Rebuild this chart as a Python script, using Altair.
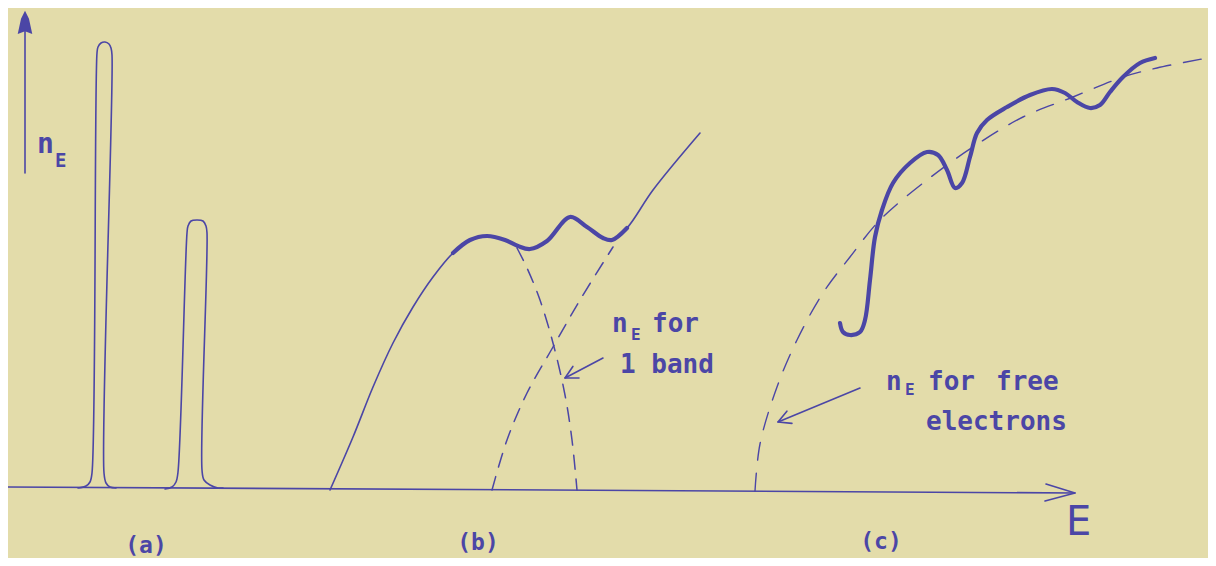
import altair as alt
import pandas as pd
import numpy as np

INK = "#4b46a6"
PAPER = "#e3dcaa"
FONT = "DejaVu Sans Mono"

# ---- data: E (horizontal) and n_E (vertical), arbitrary schematic units ----
# (a) sharp atomic levels
peak1_E = [78, 86, 90, 92, 97, 98, 101, 105, 109, 111, 112, 104, 106, 110, 116]
peak1_n = [1, 3, 7, 16, 436, 442, 446, 447, 445, 441, 434, 16, 6, 2, 1]
peak2_E = [165, 172, 176, 178, 187, 188, 191, 197, 203, 206, 207, 202, 204, 210, 218, 223]
peak2_n = [0, 2, 7, 17, 256, 263, 268, 269, 268, 263, 256, 19, 9, 4, 1, 1]

# (b) overlapping bands
band_E = [330, 353, 373, 393, 413, 433, 453, 470, 487, 505, 518, 530, 547, 570, 587, 603, 612, 627, 653, 700]
band_n = [-1, 52, 102, 146, 182, 212, 236, 249, 253, 249, 243, 240, 248, 272, 262, 251, 249, 261, 299, 356]
band1_E = [517, 527, 540, 553, 565, 572, 577]
band1_n = [241, 221, 189, 146, 94, 49, -1]
band2_E = [492, 507, 527, 553, 580, 613]
band2_n = [-1, 49, 96, 142, 189, 242]

# (c) free electrons and real metal
free_E = [755, 760, 777, 797, 823, 850, 880, 927, 973, 1023, 1073, 1123, 1157, 1207]
free_n = [-2, 45, 102, 149, 196, 232, 269, 309, 342, 372, 392, 412, 421, 431]
real_E = [840, 843, 850, 860, 865, 870, 875, 882, 893, 910, 927, 938, 947, 955, 962, 970,
          977, 987, 1007, 1030, 1052, 1065, 1077, 1090, 1100, 1110, 1123, 1140, 1155]
real_n = [166, 157, 154, 157, 169, 209, 252, 279, 306, 326, 337, 334, 319, 301, 306, 332,
          356, 369, 382, 394, 400, 396, 387, 381, 384, 397, 412, 426, 431]

# axes
xaxis_E = [8, 1075]
xaxis_n = [2, -4]
xhead_E = [1046, 1075, 1045]
xhead_n = [5, -4, -12]
yaxis_E = [25, 25]
yaxis_n = [316, 462]

# annotation arrows (tail -> tip)
arrows = {"band": ((603, 131), (565, 111)), "free": ((860, 101), (778, 67))}

# labels
lab_left = [
    ("n", 37, 336, 28), ("E", 55, 322, 19),
    ("n", 612, 157, 26), ("E", 631, 149, 16), ("for", 652, 157, 26),
    ("1 band", 620, 116, 26),
    ("n", 886, 99, 26), ("E", 905, 94, 16), ("for", 928, 99, 26), ("free", 996, 99, 26),
    ("electrons", 926, 59, 26),
]
lab_center = [("(a)", 146, -57, 23), ("(b)", 478, -54, 23), ("(c)", 881, -53, 23)]
axis_label = ("E", 1066, -46, 40)


def series(name, E, n):
    return pd.DataFrame({"E": E, "nE": n, "ord": range(len(E)), "s": name})


def chevron(name, tail, tip, arm=14, half=28):
    d = np.array(tail, float) - np.array(tip, float)
    d /= np.linalg.norm(d)
    out = []
    for a in (half, -half):
        r = np.radians(a)
        v = np.array([d[0] * np.cos(r) - d[1] * np.sin(r), d[0] * np.sin(r) + d[1] * np.cos(r)])
        out.append(np.array(tip) + arm * v)
    E = [out[0][0], tip[0], out[1][0]]
    n = [out[0][1], tip[1], out[1][1]]
    return series(name, E, n)


xs = alt.Scale(domain=[8, 1208], nice=False, zero=False)
ys = alt.Scale(domain=[-69, 481], nice=False, zero=False)
X = alt.X("E:Q", scale=xs, axis=None)
Y = alt.Y("nE:Q", scale=ys, axis=None)


def lines(df, width, dash=None, interp="catmull-rom"):
    kw = dict(color=INK, strokeWidth=width, interpolate=interp, strokeCap="round", strokeJoin="round")
    if dash:
        kw["strokeDash"] = dash
    return alt.Chart(df).mark_line(**kw).encode(x=X, y=Y, detail="s:N", order="ord:Q")


thin = pd.concat([
    series("peak1", peak1_E, peak1_n),
    series("peak2", peak2_E, peak2_n),
    series("band", band_E, band_n),
])
thick = pd.concat([
    series("band_heavy", band_E[6:18], band_n[6:18]),
    series("real", real_E, real_n),
])
dash_b = pd.concat([series("b1", band1_E, band1_n), series("b2", band2_E, band2_n)])
dash_c = series("free", free_E, free_n)

straight = [series("xaxis", xaxis_E, xaxis_n), series("xhead", xhead_E, xhead_n),
            series("yaxis", yaxis_E, yaxis_n)]
for k, (tail, tip) in arrows.items():
    straight.append(series(k + "_shaft", [tail[0], tip[0]], [tail[1], tip[1]]))
    straight.append(chevron(k + "_head", tail, tip))
straight = pd.concat(straight)

yhead = pd.DataFrame({"E": [25], "nE": [465]})
head = alt.Chart(yhead).mark_point(
    shape="M0,-1L0.3,-0.4L0.55,0.75L0,0.55L-0.55,0.75L-0.3,-0.4Z", filled=True, color=INK,
    opacity=1, size=700
).encode(x=X, y=Y)

tl = pd.DataFrame(lab_left, columns=["label", "E", "nE", "fs"])
tc = pd.DataFrame(lab_center, columns=["label", "E", "nE", "fs"])


def texts(df, align, baseline):
    return alt.Chart(df).mark_text(
        align=align, baseline=baseline, color=INK, font=FONT, fontWeight="bold"
    ).encode(x=X, y=Y, text="label:N", size=alt.Size("fs:Q", scale=None, legend=None))


big_e = alt.Chart(pd.DataFrame([axis_label], columns=["label", "E", "nE", "fs"])).mark_text(
    align="left", baseline="alphabetic", color=INK, font="DejaVu Sans", fontSize=40
).encode(x=X, y=Y, text="label:N")

chart = alt.layer(
    lines(straight, 1.6, interp="linear"),
    head,
    lines(thin, 1.6),
    lines(dash_b, 1.5, dash=[14, 10]),
    lines(dash_c, 1.4, dash=[18, 13]),
    lines(thick, 4.2),
    texts(tl, "left", "alphabetic"),
    big_e,
    texts(tc, "center", "middle"),
).properties(
    width=1200, height=550, background=PAPER, padding=0,
    autosize=alt.AutoSizeParams(type="none"),
).configure_view(stroke=None)

chart.save("out.html", embed_options={"renderer": "svg", "actions": False})
